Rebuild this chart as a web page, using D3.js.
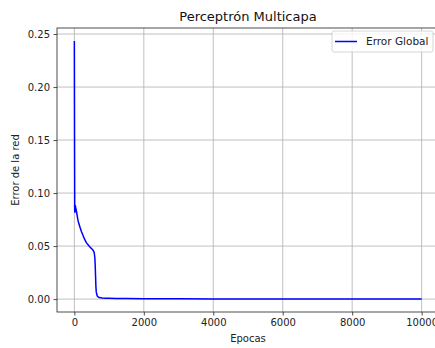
<!DOCTYPE html>
<html><head><meta charset="utf-8">
<script src="https://cdn.jsdelivr.net/npm/d3@7"></script>
<style>body{margin:0;background:#fff;} svg{display:block;font-family:"DejaVu Sans",sans-serif;}</style>
</head><body>
<script>
const epochs = [0, 5, 10, 15, 20, 30, 40, 60, 80, 100, 130, 160, 200, 250, 300, 350, 400, 450, 500, 540, 570, 590, 600, 610, 620, 630, 645, 660, 690, 720, 800, 900, 1000, 1200, 1500, 2000, 3000, 4000, 5000, 6000, 7000, 8000, 9000, 10000];
const errors = [0.2435, 0.15, 0.083, 0.082, 0.086, 0.088, 0.086, 0.083, 0.079, 0.075, 0.071, 0.068, 0.064, 0.060, 0.056, 0.053, 0.051, 0.049, 0.0475, 0.046, 0.044, 0.039, 0.032, 0.022, 0.012, 0.007, 0.0045, 0.003, 0.0019, 0.0014, 0.0010, 0.0008, 0.0007, 0.0006, 0.0005, 0.0004, 0.0003, 0.0002, 0.0002, 0.0001, 0.0001, 0.0001, 0.0001, 0.0001];
const xTicks = [0, 2000, 4000, 6000, 8000, 10000];
const yTicks = [0.00, 0.05, 0.10, 0.15, 0.20, 0.25];
const seriesName = "Error Global";

const W = 435, H = 348;
const m = {left: 57, top: 28, right: 439, bottom: 312};
const svg = d3.select("body").append("svg").attr("width", W).attr("height", H);

const x = d3.scaleLinear().domain([-500, 10500]).range([m.left, m.right]);
const ymax = d3.max(errors), ymin = 0;
const pad = (ymax - ymin) * 0.05;
const y = d3.scaleLinear().domain([ymin - pad, ymax + pad]).range([m.bottom, m.top]);

// grid
const g = svg.append("g");
g.selectAll(".vg").data(xTicks).enter().append("line")
  .attr("x1", d => x(d)).attr("x2", d => x(d)).attr("y1", m.top).attr("y2", m.bottom)
  .attr("stroke", "#b0b0b0").attr("stroke-width", 0.8);
g.selectAll(".hg").data(yTicks).enter().append("line")
  .attr("y1", d => y(d)).attr("y2", d => y(d)).attr("x1", m.left).attr("x2", m.right)
  .attr("stroke", "#b0b0b0").attr("stroke-width", 0.8);

// line
svg.append("clipPath").attr("id", "clip").append("rect")
  .attr("x", m.left).attr("y", m.top).attr("width", m.right - m.left).attr("height", m.bottom - m.top);
const line = d3.line().x((d, i) => x(epochs[i])).y(d => y(d));
svg.append("path").datum(errors).attr("d", line).attr("fill", "none")
  .attr("stroke", "#0000ff").attr("stroke-width", 1.5).attr("stroke-linejoin", "round")
  .attr("clip-path", "url(#clip)");

// axes
const xAxis = d3.axisBottom(x).tickValues(xTicks).tickFormat(d3.format("d")).tickSize(3.5).tickPadding(3.5);
const yAxis = d3.axisLeft(y).tickValues(yTicks).tickFormat(d3.format(".2f")).tickSize(3.5).tickPadding(3.5);
const xa = svg.append("g").attr("transform", `translate(0,${m.bottom})`).call(xAxis);
const ya = svg.append("g").attr("transform", `translate(${m.left},0)`).call(yAxis);
[xa, ya].forEach(a => {
  a.select(".domain").remove();
  a.selectAll("text").attr("font-size", 10).attr("fill", "#222").attr("font-family", "DejaVu Sans");
  a.selectAll("line").attr("stroke", "#222").attr("stroke-width", 0.8);
});
// spines
svg.append("rect").attr("x", m.left).attr("y", m.top).attr("width", m.right - m.left).attr("height", m.bottom - m.top)
  .attr("fill", "none").attr("stroke", "#222").attr("stroke-width", 0.8);

// labels
const cx = (m.left + m.right) / 2;
svg.append("text").attr("x", cx).attr("y", 20.5).attr("text-anchor", "middle").attr("font-size", 13).attr("fill", "#111").text("Perceptrón Multicapa");
svg.append("text").attr("x", cx).attr("y", 342).attr("text-anchor", "middle").attr("font-size", 10).attr("fill", "#222").text("Epocas");
svg.append("text").attr("transform", `translate(19,${(m.top + m.bottom) / 2}) rotate(-90)`).attr("text-anchor", "middle").attr("font-size", 10).attr("fill", "#222").text("Error de la red");

// legend
const lg = svg.append("g");
lg.append("rect").attr("x", 332).attr("y", 31).attr("width", 101).attr("height", 21).attr("rx", 2)
  .attr("fill", "#fff").attr("fill-opacity", 0.8).attr("stroke", "#ccc").attr("stroke-width", 0.8);
lg.append("line").attr("x1", 335).attr("x2", 357).attr("y1", 41.5).attr("y2", 41.5).attr("stroke", "#0000ff").attr("stroke-width", 1.5);
lg.append("text").attr("x", 366).attr("y", 45).attr("font-size", 10.5).attr("fill", "#222").text(seriesName);
</script>
</body></html>
